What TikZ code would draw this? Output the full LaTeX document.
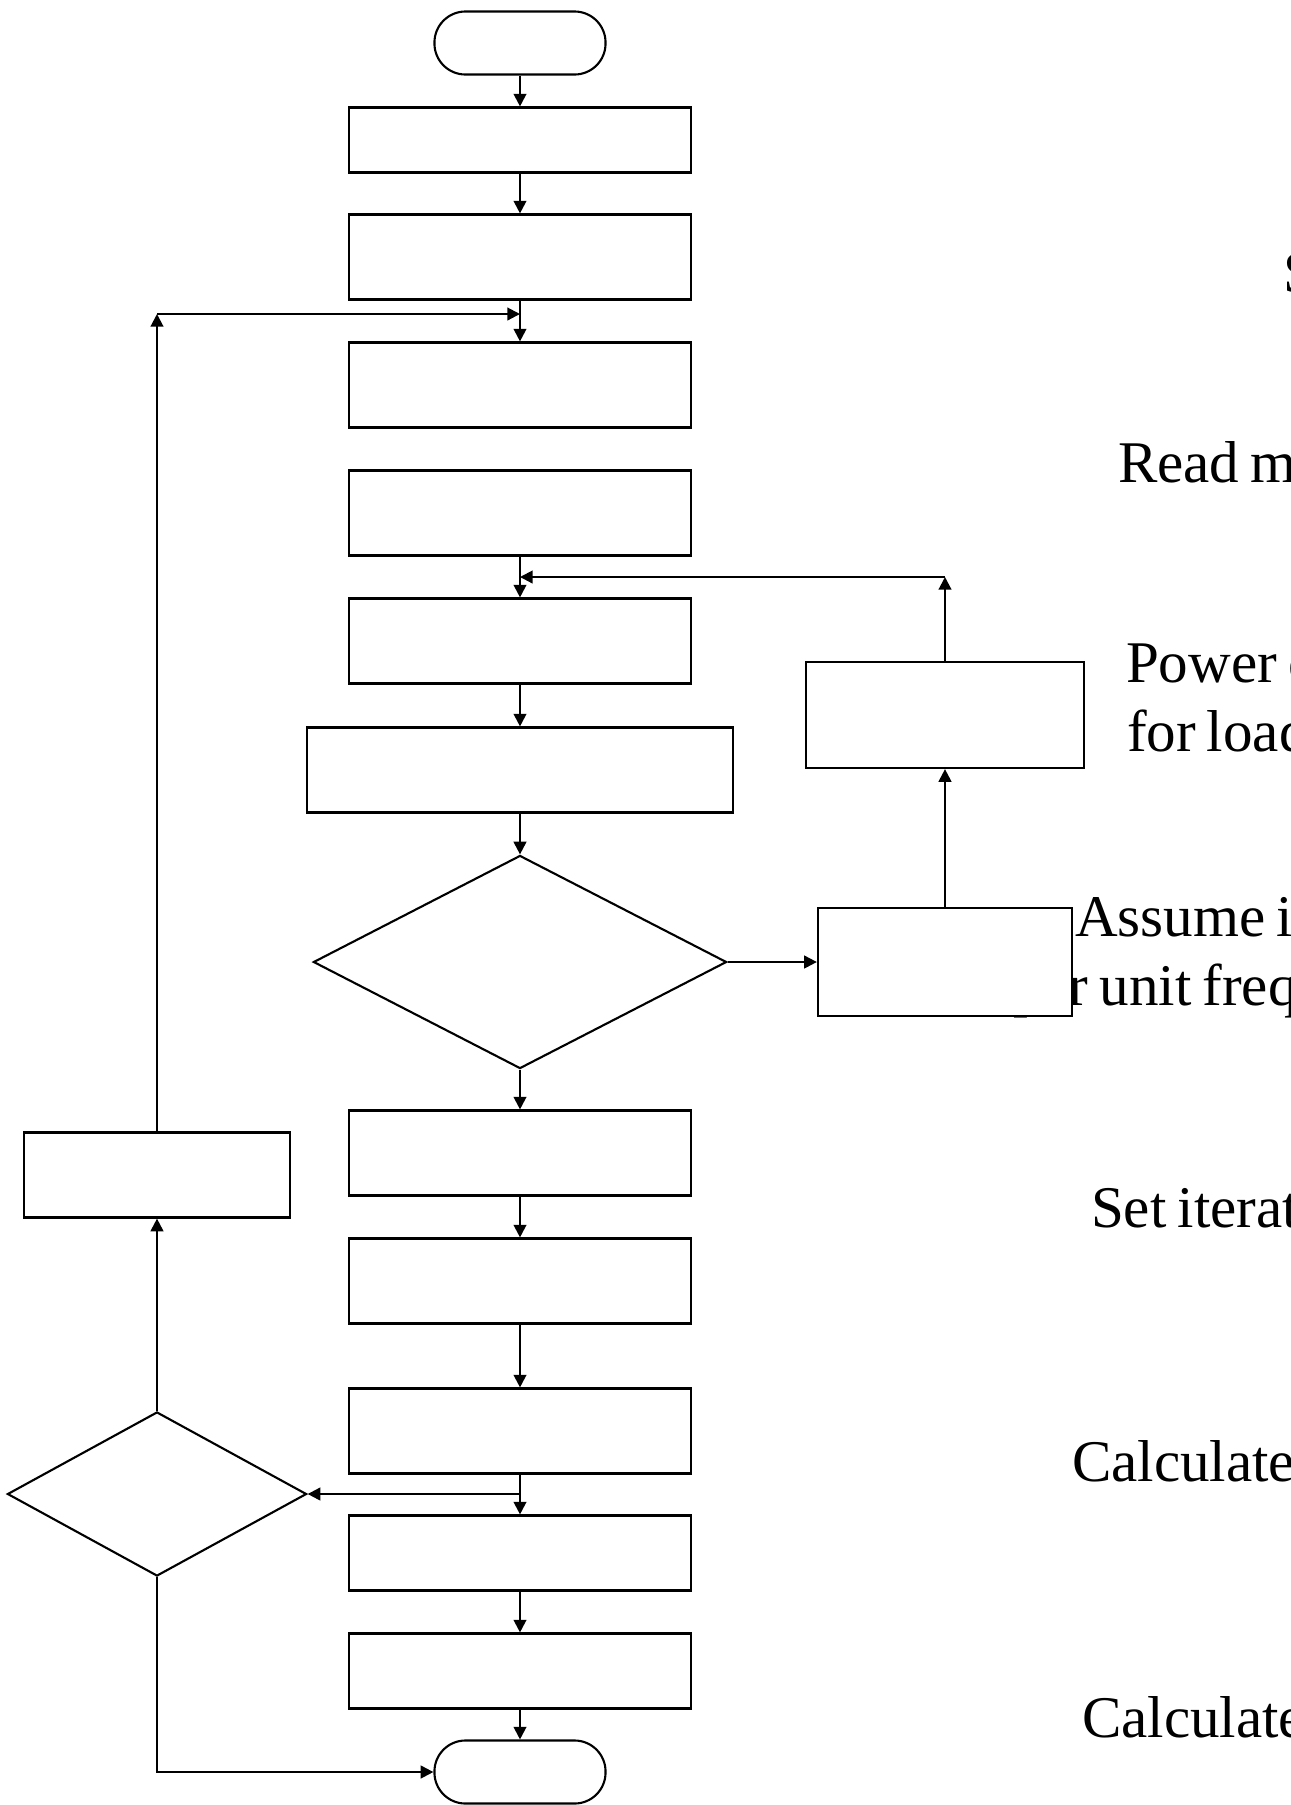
\documentclass[tikz,border=0pt]{standalone}
\usepackage{fontspec}
\setmainfont[WordSpace=0.75]{Liberation Serif}
\usetikzlibrary{shapes.geometric,arrows.meta}

\begin{document}
\begin{tikzpicture}[x=0.01cm,y=-0.01cm,line width=0.6pt,>={Triangle[length=3.6pt,width=3.6pt]},
	proc node/.style={rectangle,draw,fill=white,inner sep=0pt,minimum width=3.41cm,minimum height=0.85cm},
	term node/.style={rectangle,rounded corners=0.31cm,draw,fill=white,inner sep=0pt,minimum width=1.71cm,minimum height=0.63cm},
	dec node/.style={diamond,draw,fill=white,inner sep=0pt},
	note node/.style={anchor=base west,inner sep=0pt,font=\fontsize{16.8pt}{19.8pt}\selectfont}]
	
	\useasboundingbox (0,0) rectangle (1291,1805);
	\clip (0,0) rectangle (1291,1805);
	
	% text on the right, partly cut off
	\node[note node] (t1) at (1282,292) {S};
	\node[note node] (t2) at (1117,482) {Read m};
	\node[note node] (t3) at (1125,682) {Power c};
	\node[note node] (t4) at (1126,751) {for load};
	\node[note node] (t5) at (1074,936) {Assume in};
	\node[note node] (t6) at (1012,1005) {per unit freq};
	\node[note node] (t7) at (1090,1227) {Set iterat};
	\node[note node] (t8) at (1071,1481) {Calculate};
	\node[note node] (t9) at (1081,1737) {Calculate};
	
	% main column
	\node[term node] (start) at (520,43) {};
	\node[proc node,minimum height=0.65cm] (b1) at (520,140) {};
	\node[proc node] (b2) at (520,257) {};
	\node[proc node] (b3) at (520,385) {};
	\node[proc node] (b4) at (520,513) {};
	\node[proc node] (b5) at (520,641) {};
	\node[proc node,minimum width=4.26cm] (b6) at (520,770) {};
	\node[dec node,minimum width=4.13cm,minimum height=2.13cm] (d1) at (520,962) {};
	\node[proc node] (b7) at (520,1153) {};
	\node[proc node] (b8) at (520,1281) {};
	\node[proc node] (b9) at (520,1431) {};
	\node[proc node,minimum height=0.75cm] (b10) at (520,1553) {};
	\node[proc node,minimum height=0.75cm] (b11) at (520,1671) {};
	\node[term node] (end) at (520,1772) {};
	
	% side boxes
	\node[proc node,minimum width=2.54cm,minimum height=1.08cm] (r1) at (945,962) {};
	\node[proc node,minimum width=2.77cm,minimum height=1.06cm] (r2) at (945,715) {};
	\node[dec node,minimum width=2.99cm,minimum height=1.64cm] (d2) at (157,1494) {};
	\node[proc node,minimum width=2.66cm] (lb) at (157,1175) {};
	
	\coordinate (j1) at (520,314);
	\coordinate (j1l) at (157,314);
	\coordinate (j2) at (520,577);
	\coordinate (j2r) at (945,577);
	\coordinate (j3) at (520,1494);
	
	\path[->]
	(start) edge (b1)
	(b1) edge (b2)
	(b2) edge (b3)
	(b4) edge (b5)
	(b5) edge (b6)
	(b6) edge (d1)
	(d1) edge (r1)
	(r1) edge (r2)
	(r2) edge (j2r)
	(j2r) edge (j2)
	(d1) edge (b7)
	(b7) edge (b8)
	(b8) edge (b9)
	(b9) edge (b10)
	(b10) edge (b11)
	(b11) edge (end)
	(j3) edge (d2)
	(d2) edge (lb)
	(lb) edge (j1l)
	(j1l) edge (j1)
	;
	\draw[->] (d2.south) |- (end.west);
\end{tikzpicture}
\end{document}
